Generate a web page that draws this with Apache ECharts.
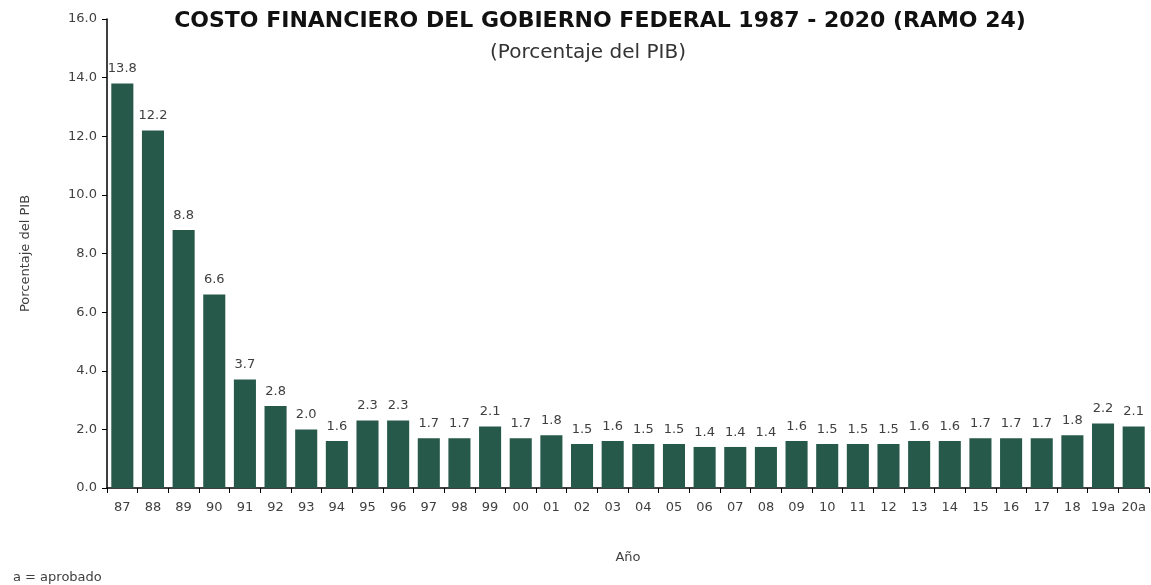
<!DOCTYPE html>
<html>
<head>
<meta charset="utf-8">
<script src="https://cdn.jsdelivr.net/npm/echarts@6/dist/echarts.min.js"></script>
<style>
    html, body { margin: 0; padding: 0; background: #fff; }
    #chart { width: 1151px; height: 585px; }
</style>
</head>
<body>
<div id="chart"></div>
<script>
    // años (a = aprobado)
    const anios = ['87', '88', '89', '90', '91', '92', '93', '94', '95', '96', '97', '98', '99', '00', '01', '02',
        '03', '04', '05', '06', '07', '08', '09', '10', '11', '12', '13', '14', '15', '16', '17', '18', '19a', '20a'];
    // costo financiero, % del PIB
    const costo = [13.8, 12.2, 8.8, 6.6, 3.7, 2.8, 2.0, 1.6, 2.3, 2.3, 1.7, 1.7, 2.1, 1.7, 1.8, 1.5,
        1.6, 1.5, 1.5, 1.4, 1.4, 1.4, 1.6, 1.5, 1.5, 1.5, 1.6, 1.6, 1.7, 1.7, 1.7, 1.8, 2.2, 2.1];
    const ticksY = [0, 2, 4, 6, 8, 10, 12, 14, 16];

    const myChart = echarts.init(document.getElementById('chart'));
    const gris = '#404040';
    const fuente = 'DejaVu Sans';

    const option = {
        animation: false,
        title: [
            {
                text: 'COSTO FINANCIERO DEL GOBIERNO FEDERAL 1987 - 2020 (RAMO 24)',
                left: 595, top: 5, textAlign: 'center',
                textStyle: { fontFamily: fuente, fontWeight: 'bold', fontSize: 22, color: '#111' }
            },
            {
                text: '(Porcentaje del PIB)',
                left: 583, top: 38, textAlign: 'center',
                textStyle: { fontFamily: fuente, fontWeight: 'normal', fontSize: 20, color: '#333' }
            },
            {
                text: 'a = aprobado',
                left: 8, top: 566,
                textStyle: { fontFamily: fuente, fontWeight: 'normal', fontSize: 13, color: gris }
            }
        ],
        grid: { left: 107, right: 2, top: 19, bottom: 97 },
        xAxis: {
            type: 'category',
            data: anios,
            name: 'Año',
            nameLocation: 'middle',
            nameGap: 63,
            nameTextStyle: { fontFamily: fuente, fontSize: 13, color: gris },
            axisLine: { lineStyle: { color: '#000', width: 1.5 } },
            axisTick: { show: true, alignWithLabel: false, length: 5, lineStyle: { color: '#000' } },
            axisLabel: { fontFamily: fuente, fontSize: 13, color: gris, margin: 13, interval: 0 }
        },
        yAxis: {
            type: 'value',
            min: ticksY[0],
            max: ticksY[ticksY.length - 1],
            interval: 2,
            name: 'Porcentaje del PIB',
            nameLocation: 'middle',
            nameGap: 75,
            nameTextStyle: { fontFamily: fuente, fontSize: 13, color: gris },
            axisLine: { show: true, lineStyle: { color: '#000', width: 1.5 } },
            axisTick: { show: true, length: 5, lineStyle: { color: '#000' } },
            splitLine: { show: false },
            axisLabel: {
                fontFamily: fuente, fontSize: 13, color: gris, margin: 10,
                formatter: v => v.toFixed(1)
            }
        },
        series: [
            {
                type: 'bar',
                data: costo,
                barCategoryGap: '28%',
                itemStyle: { color: '#27594a' },
                label: {
                    show: true,
                    position: 'top',
                    distance: 8,
                    fontFamily: fuente,
                    fontSize: 13,
                    color: gris,
                    formatter: p => p.value.toFixed(1)
                }
            }
        ]
    };
    myChart.setOption(option);
</script>
</body>
</html>
